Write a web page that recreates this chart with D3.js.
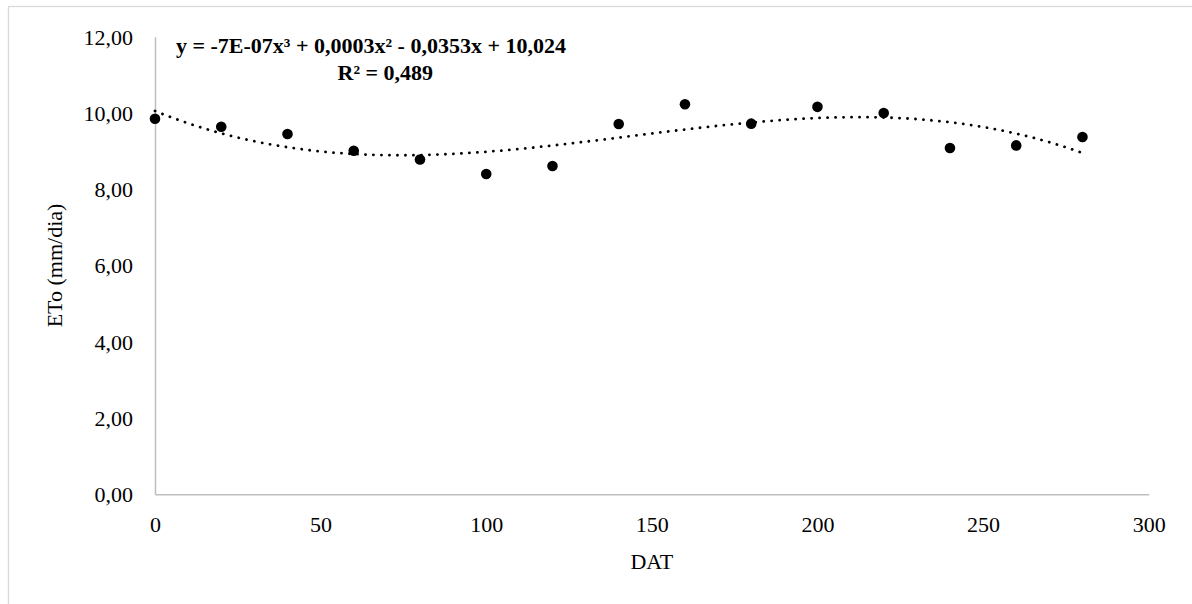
<!DOCTYPE html>
<html>
<head>
<meta charset="utf-8">
<script src="https://cdn.jsdelivr.net/npm/d3@7"></script>
<style>
  body { margin: 0; background: #fff; }
  svg text { font-family: "Times New Roman", Times, "Liberation Serif", "DejaVu Serif", serif; fill: #000; }
</style>
</head>
<body>
<div id="vis"></div>
<script>
// days after transplanting and reference evapotranspiration
var dat = [0, 20, 40, 60, 80, 100, 120, 140, 160, 180, 200, 220, 240, 260, 280];
var eto = [9.85, 9.64, 9.45, 9.01, 8.78, 8.40, 8.61, 9.71, 10.23, 9.72, 10.16, 10.00, 9.08, 9.15, 9.37];

var xTicks = [0, 50, 100, 150, 200, 250, 300];
var yTicks = [0, 2, 4, 6, 8, 10, 12];

var eqLine1 = "y = -7E-07x³ + 0,0003x² - 0,0353x + 10,024";
var eqLine2 = "R² = 0,489";

var serif = '"Times New Roman", Times, "Liberation Serif", "DejaVu Serif", serif';

var W = 1192, H = 604;
var plot = {left: 155, right: 1148.7, top: 36.7, bottom: 494.3};

var svg = d3.select("#vis").append("svg")
  .attr("width", W)
  .attr("height", H)
  .attr("font-family", serif);

// chart area border
svg.append("rect")
  .attr("x", 8.5).attr("y", 6.5)
  .attr("width", W + 20).attr("height", H + 20)
  .attr("fill", "#fff")
  .attr("stroke", "#d9d9d9")
  .attr("stroke-width", 1.3);

var xScale = d3.scaleLinear().domain([0, 300]).range([plot.left, plot.right]);
var yScale = d3.scaleLinear().domain([0, 12]).range([plot.bottom, plot.top]);

var fmt = function(v){ return d3.format(".2f")(v).replace(".", ","); };

// axes (no tick marks, gray lines)
var xAxis = svg.append("g")
  .attr("transform", "translate(0," + plot.bottom + ")")
  .call(d3.axisBottom(xScale).tickValues(xTicks).tickSize(0).tickPadding(22));
var yAxis = svg.append("g")
  .attr("transform", "translate(" + plot.left + ",0)")
  .call(d3.axisLeft(yScale).tickValues(yTicks).tickFormat(fmt).tickSize(0).tickPadding(22));

[xAxis, yAxis].forEach(function(a){
  a.attr("font-family", serif).attr("font-size", 22);
  a.select(".domain").attr("stroke", "#bfbfbf").attr("stroke-width", 1.5);
  a.selectAll("text")
    .style("font-family", serif)
    .style("font-size", "22px")
    .attr("fill", "#000");
});
xAxis.selectAll("text").attr("dy", "0.71em");
yAxis.selectAll("text").attr("dy", "0.34em");

// axis titles
svg.append("text")
  .attr("x", (plot.left + plot.right) / 2)
  .attr("y", 569)
  .attr("text-anchor", "middle")
  .style("font-family", serif)
  .style("font-size", "22px")
  .text("DAT");

svg.append("text")
  .attr("transform", "translate(62," + ((plot.top + plot.bottom) / 2) + ") rotate(-90)")
  .attr("text-anchor", "middle")
  .style("font-family", serif)
  .style("font-size", "22px")
  .text("ETo (mm/dia)");

// polynomial (order 3) least squares trendline
function polyFit(xs, ys, order){
  var n = order + 1;
  var A = [], b = [];
  for (var i = 0; i < n; i++) {
    A.push([]);
    for (var j = 0; j < n; j++) {
      A[i].push(d3.sum(xs, function(x){ return Math.pow(x, i + j); }));
    }
    b.push(d3.sum(xs, function(x, k){ return ys[k] * Math.pow(x, i); }));
  }
  // gaussian elimination
  for (var c = 0; c < n; c++) {
    var p = c;
    for (var r = c + 1; r < n; r++) if (Math.abs(A[r][c]) > Math.abs(A[p][c])) p = r;
    var t = A[c]; A[c] = A[p]; A[p] = t;
    var tb = b[c]; b[c] = b[p]; b[p] = tb;
    for (var r2 = c + 1; r2 < n; r2++) {
      var f = A[r2][c] / A[c][c];
      for (var k = c; k < n; k++) A[r2][k] -= f * A[c][k];
      b[r2] -= f * b[c];
    }
  }
  var coef = new Array(n).fill(0);
  for (var r3 = n - 1; r3 >= 0; r3--) {
    var s = b[r3];
    for (var k2 = r3 + 1; k2 < n; k2++) s -= A[r3][k2] * coef[k2];
    coef[r3] = s / A[r3][r3];
  }
  return coef;
}

var coef = polyFit(dat, eto, 3);
var trend = d3.range(0, 280.5, 2).map(function(x){
  return [x, coef[0] + coef[1] * x + coef[2] * x * x + coef[3] * x * x * x];
});

var line = d3.line()
  .x(function(d){ return xScale(d[0]); })
  .y(function(d){ return yScale(d[1]); })
  .curve(d3.curveMonotoneX);

svg.append("path")
  .datum(trend)
  .attr("d", line)
  .attr("fill", "none")
  .attr("stroke", "#000")
  .attr("stroke-width", 2.8)
  .attr("stroke-linecap", "round")
  .attr("stroke-dasharray", "0.1,7.9");

// data points
svg.selectAll("circle.pt")
  .data(dat)
  .enter()
  .append("circle")
    .attr("class", "pt")
    .attr("cx", function(d){ return xScale(d); })
    .attr("cy", function(d, i){ return yScale(eto[i]); })
    .attr("r", 5.3)
    .attr("fill", "#000");

// equation label
svg.append("text")
  .attr("x", 176).attr("y", 53)
  .style("font-family", serif)
  .style("font-size", "22px")
  .style("font-weight", "bold")
  .text(eqLine1);
svg.append("text")
  .attr("x", 337.5).attr("y", 80)
  .style("font-family", serif)
  .style("font-size", "22px")
  .style("font-weight", "bold")
  .text(eqLine2);
</script>
</body>
</html>
